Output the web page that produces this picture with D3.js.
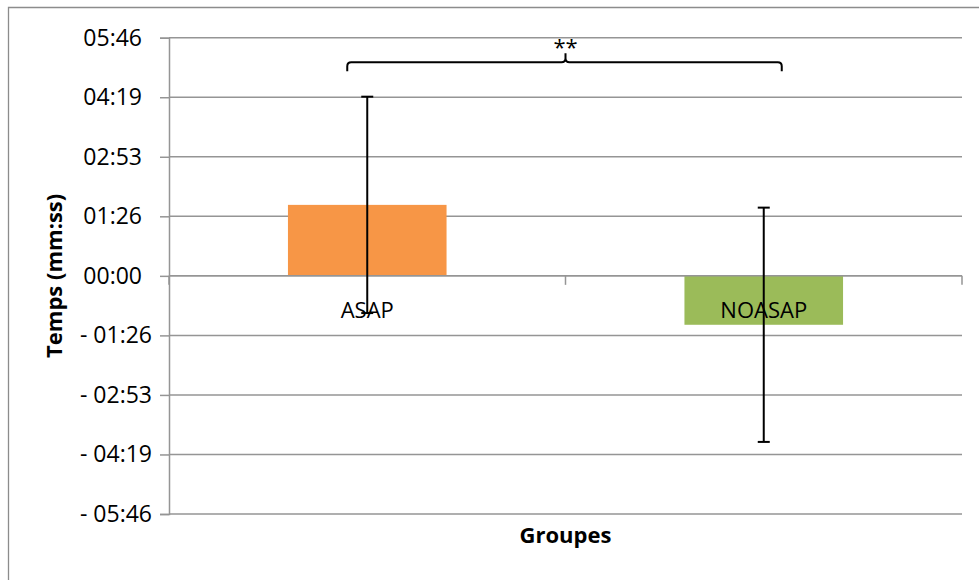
<!DOCTYPE html>
<html>
<head>
<meta charset="utf-8">
<script src="https://cdn.jsdelivr.net/npm/d3@7"></script>
<style>
  html, body { margin: 0; padding: 0; background: #fff; }
  svg { display: block; font-family: "Open Sans", "Noto Sans", sans-serif; }
</style>
</head>
<body>
<svg id="chart" width="979" height="580"></svg>
<script>
// Data (seconds)
const categories = ["ASAP", "NOASAP"];
const means = [103, -71];
const errors = [157, 170];
const colors = ["#F79646", "#9BBB59"];
const tickValues = [-345.6, -259.2, -172.8, -86.4, 0, 86.4, 172.8, 259.2, 345.6];
const bracketLevel = 310;   // seconds, height of significance bracket
const significance = "**";
const yTitle = "Temps (mm:ss)";
const xTitle = "Groupes";

const svg = d3.select("#chart");
const plot = { left: 169, right: 962, top: 37.7, bottom: 514 };

// outer chart border (right and bottom edges fall outside the picture)
svg.append("path")
  .attr("d", "M8.5,582 L8.5,7.5 L981,7.5")
  .attr("fill", "none").attr("stroke", "#8c8c8c").attr("stroke-width", 1.3);

const y = d3.scaleLinear().domain([-345.6, 345.6]).range([plot.bottom, plot.top]);
const x = d3.scaleBand().domain(categories).range([plot.left, plot.right]).padding(0);

function fmt(v) {
  const s = Math.round(Math.abs(v));
  const mm = String(Math.floor(s / 60)).padStart(2, "0");
  const ss = String(s % 60).padStart(2, "0");
  return (v < -0.001 ? "- " : "") + mm + ":" + ss;
}

// gridlines
svg.append("g").selectAll("line").data(tickValues).join("line")
  .attr("x1", plot.left).attr("x2", plot.right)
  .attr("y1", d => y(d)).attr("y2", d => y(d))
  .attr("stroke", "#959595").attr("stroke-width", 1.5);

// y axis
const yAxis = d3.axisLeft(y).tickValues(tickValues).tickSize(9).tickPadding(8).tickFormat(fmt);
const gy = svg.append("g").attr("transform", `translate(${plot.left},0)`).call(yAxis);
gy.select(".domain").attr("stroke", "#959595").attr("stroke-width", 1.5);
gy.selectAll(".tick line").attr("stroke", "#959595").attr("stroke-width", 1.5);
gy.selectAll(".tick text")
  .attr("font-size", 23).attr("fill", "#000").attr("font-family", "'Open Sans', sans-serif")
  .attr("x", d => d < -0.001 ? -17 : -27);

// bars
const bw = x.bandwidth() * 0.4;
svg.append("g").selectAll("rect").data(categories).join("rect")
  .attr("x", d => x(d) + x.bandwidth() / 2 - bw / 2)
  .attr("width", bw)
  .attr("y", (d, i) => y(Math.max(0, means[i])))
  .attr("height", (d, i) => Math.abs(y(means[i]) - y(0)))
  .attr("fill", (d, i) => colors[i]);

// category axis at zero
svg.append("line").attr("x1", plot.left).attr("x2", plot.right)
  .attr("y1", y(0)).attr("y2", y(0)).attr("stroke", "#959595").attr("stroke-width", 1.5);
const bounds = [plot.left].concat(categories.map(c => x(c) + x.bandwidth()));
svg.append("g").selectAll("line").data(bounds).join("line")
  .attr("x1", d => d).attr("x2", d => d)
  .attr("y1", y(0)).attr("y2", y(0) + 9)
  .attr("stroke", "#959595").attr("stroke-width", 1.5);

// error bars
const eb = svg.append("g").attr("stroke", "#000").attr("stroke-width", 2);
categories.forEach((c, i) => {
  const cx = x(c) + x.bandwidth() / 2;
  const hi = y(means[i] + errors[i]), lo = y(means[i] - errors[i]);
  eb.append("line").attr("x1", cx).attr("x2", cx).attr("y1", hi).attr("y2", lo);
  eb.append("line").attr("x1", cx - 6).attr("x2", cx + 6).attr("y1", hi).attr("y2", hi);
  eb.append("line").attr("x1", cx - 6).attr("x2", cx + 6).attr("y1", lo).attr("y2", lo);
});

// category labels
svg.append("g").selectAll("text").data(categories).join("text")
  .attr("x", d => x(d) + x.bandwidth() / 2)
  .attr("y", y(0) + 42)
  .attr("text-anchor", "middle").attr("font-size", 22).attr("fill", "#000")
  .text(d => d);

// significance bracket
const bx1 = x(categories[0]) + x.bandwidth() / 2 - 20;
const bx2 = x(categories[1]) + x.bandwidth() / 2 + 18;
const bm = x(categories[0]) + x.bandwidth();
const by = y(bracketLevel);
const r = 4;
svg.append("path")
  .attr("d", `M${bx1},${by + 9} L${bx1},${by + r} Q${bx1},${by} ${bx1 + r},${by} L${bm - r},${by} Q${bm},${by} ${bm},${by - r} L${bm},${by - 9} M${bm},${by - r} Q${bm},${by} ${bm + r},${by} L${bx2 - r},${by} Q${bx2},${by} ${bx2},${by + r} L${bx2},${by + 9}`)
  .attr("fill", "none").attr("stroke", "#000").attr("stroke-width", 2);
svg.append("text").attr("x", bm).attr("y", by - 7)
  .attr("text-anchor", "middle").attr("font-size", 22).attr("fill", "#000")
  .text(significance);

// axis titles
svg.append("text")
  .attr("transform", `translate(62,${(plot.top + plot.bottom) / 2}) rotate(-90)`)
  .attr("text-anchor", "middle").attr("font-size", 22).attr("font-weight", "bold").attr("fill", "#000")
  .text(yTitle);
svg.append("text").attr("x", (plot.left + plot.right) / 2).attr("y", 543)
  .attr("text-anchor", "middle").attr("font-size", 22).attr("font-weight", "bold").attr("fill", "#000")
  .text(xTitle);
</script>
</body>
</html>
